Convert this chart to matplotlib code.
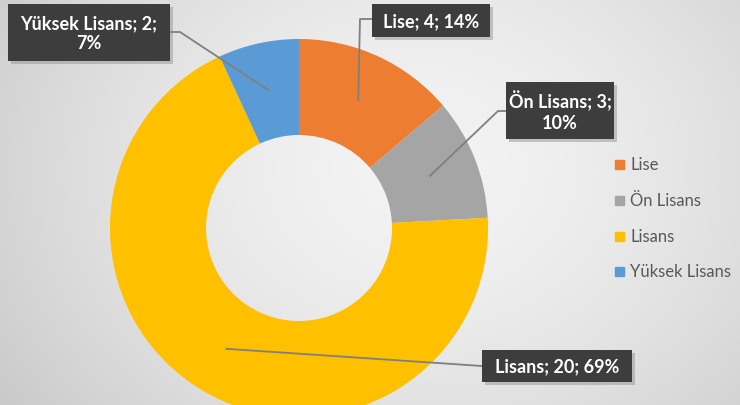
import numpy as np
import matplotlib.pyplot as plt

# ================= DATA =================

labels = ["Lise", "Ön Lisans", "Lisans", "Yüksek Lisans"]
counts = [4, 3, 20, 2]
percents = ["14%", "10%", "69%", "7%"]
label_texts = ["Lise; 4; 14%", "Ön Lisans; 3;\n10%", "Lisans; 20; 69%", "Yüksek Lisans; 2;\n7%"]
colors = ["#ED7D31", "#A5A5A5", "#FFC000", "#5B9BD5"]

plt.rcParams['font.family'] = ['Lato', 'DejaVu Sans']

W, H = 740, 406
fig = plt.figure(figsize=(7.4, 4.06), dpi=100)
ax = fig.add_axes([0, 0, 1, 1])

# ================= BACKGROUND =================

yy, xx = np.mgrid[0:H, 0:W]
dist = np.sqrt(((xx - 420) / 520.0) ** 2 + ((yy - 170) / 420.0) ** 2)
shade = 0.955 - 0.17 * np.clip(dist, 0, 1) ** 1.6
bg = np.dstack([shade, shade, shade])
ax.imshow(bg, extent=[0, W, 0, H], origin='upper', zorder=0, aspect='auto')

# ================= DONUT =================

cx, cy, R = 299, H - 229, 189
wedges, _ = ax.pie(counts, colors=colors, startangle=90, counterclock=False,
                   center=(cx, cy), radius=R, frame=True,
                   wedgeprops=dict(width=96, edgecolor='none'))
ax.set_xlim(0, W)
ax.set_ylim(0, H)
ax.set_aspect('equal')
ax.axis('off')
for w in wedges:
    w.set_zorder(2)

# ================= LABELS =================

# boxes as (left, top, right, bottom) in pixels from top-left
boxes = [(372, 5, 490, 38), (506, 83, 614, 140), (482, 351, 632, 383), (8, 5, 170, 62)]
bends = [[(360, 20), (372, 20)],
         [(498, 112), (506, 112)],
         [(482, 367)],
         [(180, 33), (170, 33)]]

rmid = R - 48
for i, w in enumerate(wedges):
    ang = np.deg2rad((w.theta1 + w.theta2) / 2)
    sx, sy = cx + rmid * np.cos(ang), cy + rmid * np.sin(ang)
    pts = [(sx, sy)] + [(bx, H - by) for bx, by in bends[i]]
    ax.plot([p[0] for p in pts], [p[1] for p in pts], color='#7f7f7f', lw=1.3, zorder=3)
    l, t, r, b = boxes[i]
    ax.add_patch(plt.Rectangle((l + 3, H - b - 3), r - l, b - t, fc='#8c8c8c',
                               ec='none', alpha=0.45, zorder=3))
    ax.add_patch(plt.Rectangle((l, H - b), r - l, b - t, fc='#3d3d3d', ec='none', zorder=4))
    ax.text((l + r) / 2, H - (t + b) / 2, label_texts[i], ha='center', va='center',
            fontsize=13, fontweight='bold', color='white', linespacing=1.25, zorder=5)

# ================= LEGEND =================

leg_y = [165, 201, 237, 272]
for i, lab in enumerate(labels):
    ax.add_patch(plt.Rectangle((615, H - leg_y[i] - 4.5), 9, 9, color=colors[i], zorder=3))
    ax.text(630, H - leg_y[i], lab, ha='left', va='center', fontsize=12,
            color='#595959', zorder=3)

fig.savefig("out.png", dpi=100)
